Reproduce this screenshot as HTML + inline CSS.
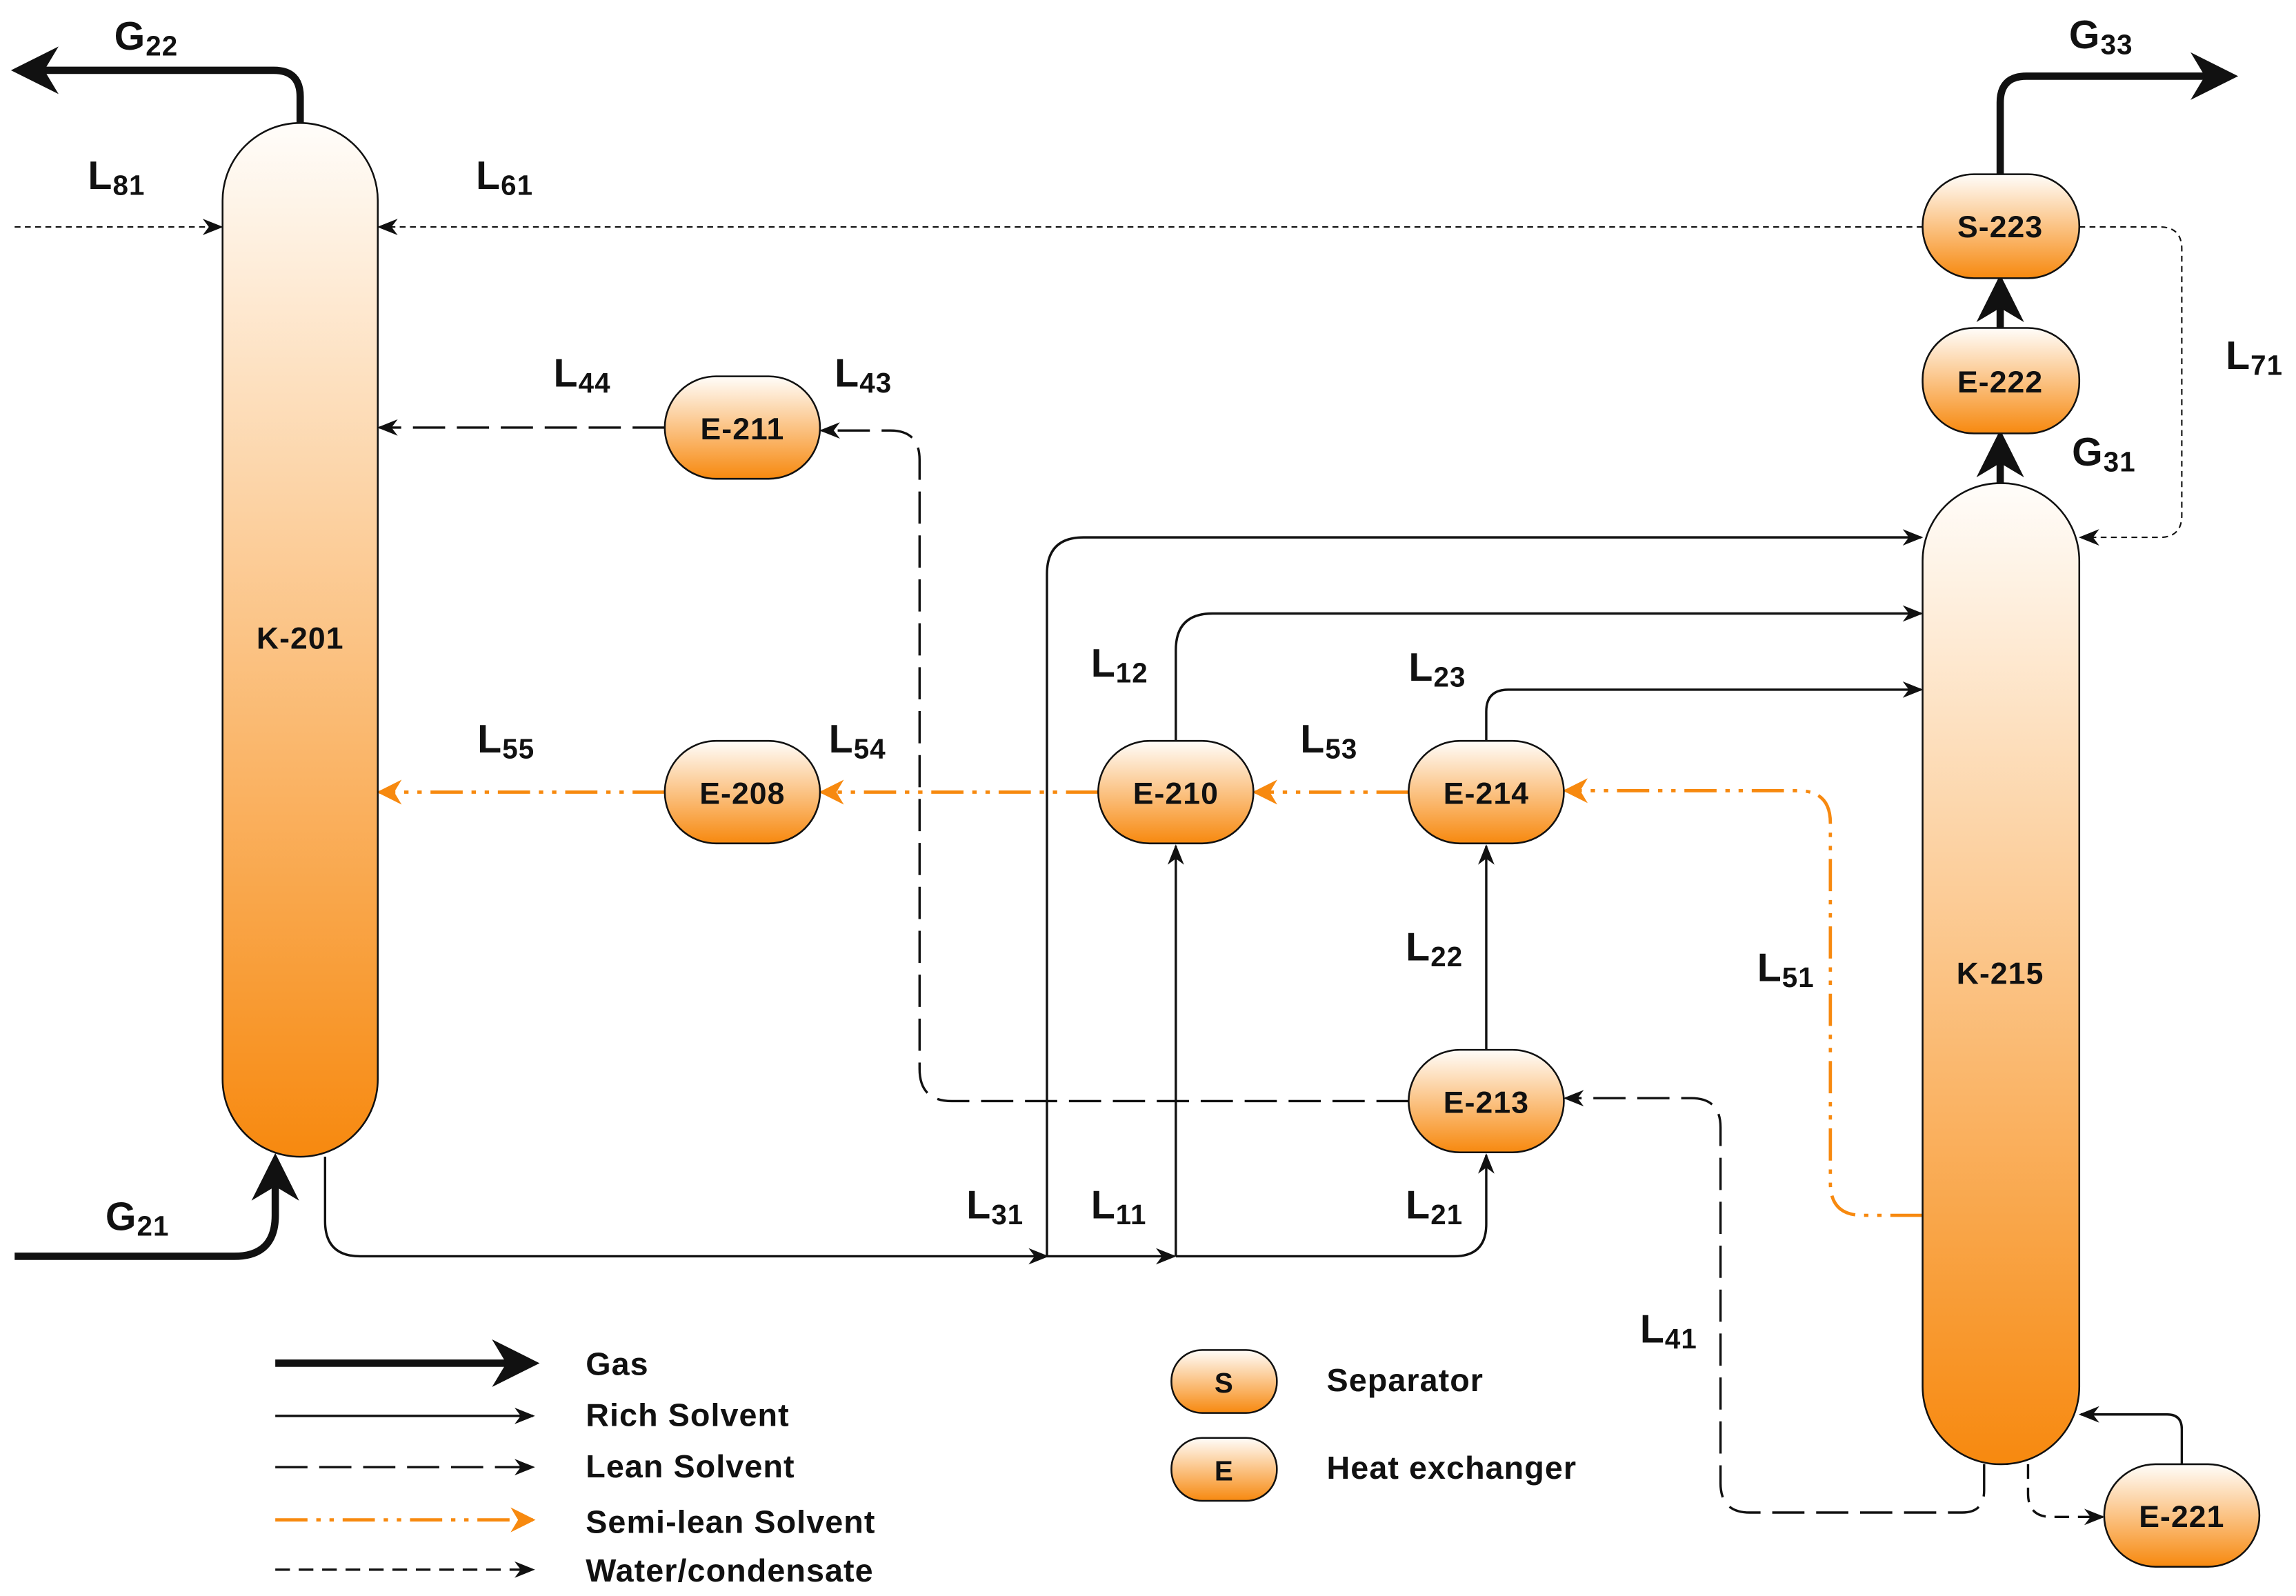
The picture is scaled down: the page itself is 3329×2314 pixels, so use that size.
<!DOCTYPE html>
<html><head><meta charset="utf-8"><style>
html,body{margin:0;padding:0;background:#fff;}
svg{display:block;}
text{font-family:"Liberation Sans",sans-serif;font-weight:bold;fill:#111;letter-spacing:0.5px;}
</style></head><body>
<svg width="3329" height="2314" viewBox="0 0 1568 1090" preserveAspectRatio="none" xmlns="http://www.w3.org/2000/svg">
<defs>
<linearGradient id="g" x1="0" y1="0" x2="0" y2="1"><stop offset="0" stop-color="#fffdfa"/><stop offset="1" stop-color="#f7890f"/></linearGradient>
<marker id="a" viewBox="0 0 10 10" refX="9" refY="5" markerWidth="14" markerHeight="14" markerUnits="userSpaceOnUse" orient="auto"><path d="M0,1 L10,5 L0,9 L3,5z" fill="#111"/></marker>
<marker id="ab" viewBox="0 0 10 10" refX="8" refY="5" markerWidth="6.5" markerHeight="6.5" orient="auto"><path d="M0,0 L10,5 L0,10 L3,5z" fill="#111"/></marker>
<marker id="ao" viewBox="0 0 10 10" refX="9" refY="5" markerWidth="17" markerHeight="17" markerUnits="userSpaceOnUse" orient="auto"><path d="M0,0 L10,5 L0,10 L3,5z" fill="#f7890f"/></marker>
</defs>
<g fill="none" stroke="#111" stroke-width="1.6">
<path d="M205,86 V66 Q205,48 187,48 H14" stroke-width="5" marker-end="url(#ab)"/>
<path d="M1366,119 V70 Q1366,52 1384,52 H1522" stroke-width="5" marker-end="url(#ab)"/>
<path d="M1366,224 V194" stroke-width="5" marker-end="url(#ab)"/>
<path d="M1366,330 V300" stroke-width="5" marker-end="url(#ab)"/>
<path d="M10,858 H160 Q188,858 188,830 V794" stroke-width="5" marker-end="url(#ab)"/>
<path d="M10,155 H151" stroke-width="1" stroke-dasharray="4,3" marker-end="url(#a)"/>
<path d="M1313,155 H259" stroke-width="1" stroke-dasharray="4,3" marker-end="url(#a)"/>
<path d="M1420,155 H1475 Q1490,155 1490,170 V352 Q1490,367 1475,367 H1421" stroke-width="1" stroke-dasharray="4,3" marker-end="url(#a)"/>
<path d="M454,292 H259" stroke-dasharray="22,8" marker-end="url(#a)"/>
<path d="M962,752 H650 Q628,752 628,730 V314 Q628,294 608,294 H561" stroke-dasharray="22,8" marker-end="url(#a)"/>
<path d="M1355,1000 V1018 Q1355,1033 1340,1033 H1195 Q1175,1033 1175,1013 V770 Q1175,750 1155,750 H1069" stroke-dasharray="22,8" marker-end="url(#a)"/>
<path d="M1385,1000 V1020 Q1385,1036 1401,1036 H1436" stroke-dasharray="10,6" marker-end="url(#a)"/>
<path d="M1490,1000 V976 Q1490,966 1480,966 H1421" marker-end="url(#a)"/>
<path d="M222,790 V834 Q222,858 246,858 H715" marker-end="url(#a)"/>
<path d="M715,858 H802" marker-end="url(#a)"/>
<path d="M803,858 H993 Q1015,858 1015,836 V789" marker-end="url(#a)"/>
<path d="M715,858 V392 Q715,367 740,367 H1312" marker-end="url(#a)"/>
<path d="M803,858 V578" marker-end="url(#a)"/>
<path d="M803,507 V444 Q803,419 828,419 H1312" marker-end="url(#a)"/>
<path d="M1015,718 V578" marker-end="url(#a)"/>
<path d="M1015,507 V486 Q1015,471 1030,471 H1312" marker-end="url(#a)"/>
<g stroke="#f7890f" stroke-width="2.2" stroke-dasharray="22,6,3,6,3,6">
<path d="M1313,830 H1272 Q1250,830 1250,808 V562 Q1250,540 1228,540 H1069" marker-end="url(#ao)"/>
<path d="M962,541 H857" marker-end="url(#ao)"/>
<path d="M750,541 H561" marker-end="url(#ao)"/>
<path d="M454,541 H259" marker-end="url(#ao)"/>
</g>
<path d="M188,931 H362" stroke-width="5" marker-end="url(#ab)"/>
<path d="M188,967 H364" marker-end="url(#a)"/>
<path d="M188,1002 H364" stroke-dasharray="22,8" marker-end="url(#a)"/>
<path d="M188,1038 H364" stroke="#f7890f" stroke-width="2.2" stroke-dasharray="22,6,3,6,3,6" marker-end="url(#ao)"/>
<path d="M188,1072 H364" stroke-dasharray="10,6" marker-end="url(#a)"/>
</g>
<g fill="url(#g)" stroke="#111" stroke-width="1.2">
<rect x="152" y="84" width="106" height="706" rx="53"/>
<rect x="1313" y="330" width="107" height="670" rx="53"/>
<rect x="1313" y="119" width="107" height="71" rx="35"/>
<rect x="1313" y="224" width="107" height="72" rx="35"/>
<rect x="454" y="257" width="106" height="70" rx="35"/>
<rect x="454" y="506" width="106" height="70" rx="35"/>
<rect x="750" y="506" width="106" height="70" rx="35"/>
<rect x="962" y="506" width="106" height="70" rx="35"/>
<rect x="962" y="717" width="106" height="70" rx="35"/>
<rect x="1437" y="1000" width="106" height="70" rx="35"/>
<rect x="800" y="922" width="72" height="43" rx="21"/>
<rect x="800" y="982" width="72" height="43" rx="21"/>
</g>
<g font-size="21" text-anchor="middle">
<text x="205" y="443">K-201</text>
<text x="1366" y="672">K-215</text>
<text x="1366" y="162">S-223</text>
<text x="1366" y="268">E-222</text>
<text x="507" y="300">E-211</text>
<text x="507" y="549">E-208</text>
<text x="803" y="549">E-210</text>
<text x="1015" y="549">E-214</text>
<text x="1015" y="760">E-213</text>
<text x="1490" y="1043">E-221</text>
<text x="836" y="951" font-size="19">S</text>
<text x="836" y="1011" font-size="19">E</text>
</g>
<g font-size="22" style="letter-spacing:1px">
<text x="400" y="939">Gas</text>
<text x="400" y="974">Rich Solvent</text>
<text x="400" y="1009">Lean Solvent</text>
<text x="400" y="1047">Semi-lean Solvent</text>
<text x="400" y="1080">Water/condensate</text>
<text x="906" y="950">Separator</text>
<text x="906" y="1010">Heat exchanger</text>
</g>
<g font-size="27">
<text x="78" y="34">G<tspan font-size="19" dy="4">22</tspan></text>
<text x="1413" y="33">G<tspan font-size="19" dy="4">33</tspan></text>
<text x="60" y="129">L<tspan font-size="19" dy="4">81</tspan></text>
<text x="325" y="129">L<tspan font-size="19" dy="4">61</tspan></text>
<text x="1520" y="252">L<tspan font-size="19" dy="4">71</tspan></text>
<text x="1415" y="318">G<tspan font-size="19" dy="4">31</tspan></text>
<text x="378" y="264">L<tspan font-size="19" dy="4">44</tspan></text>
<text x="570" y="264">L<tspan font-size="19" dy="4">43</tspan></text>
<text x="745" y="462">L<tspan font-size="19" dy="4">12</tspan></text>
<text x="962" y="465">L<tspan font-size="19" dy="4">23</tspan></text>
<text x="326" y="514">L<tspan font-size="19" dy="4">55</tspan></text>
<text x="566" y="514">L<tspan font-size="19" dy="4">54</tspan></text>
<text x="888" y="514">L<tspan font-size="19" dy="4">53</tspan></text>
<text x="960" y="656">L<tspan font-size="19" dy="4">22</tspan></text>
<text x="1200" y="670">L<tspan font-size="19" dy="4">51</tspan></text>
<text x="660" y="832">L<tspan font-size="19" dy="4">31</tspan></text>
<text x="745" y="832">L<tspan font-size="19" dy="4">11</tspan></text>
<text x="960" y="832">L<tspan font-size="19" dy="4">21</tspan></text>
<text x="1120" y="917">L<tspan font-size="19" dy="4">41</tspan></text>
<text x="72" y="840">G<tspan font-size="19" dy="4">21</tspan></text>
</g>
</svg>
</body></html>
